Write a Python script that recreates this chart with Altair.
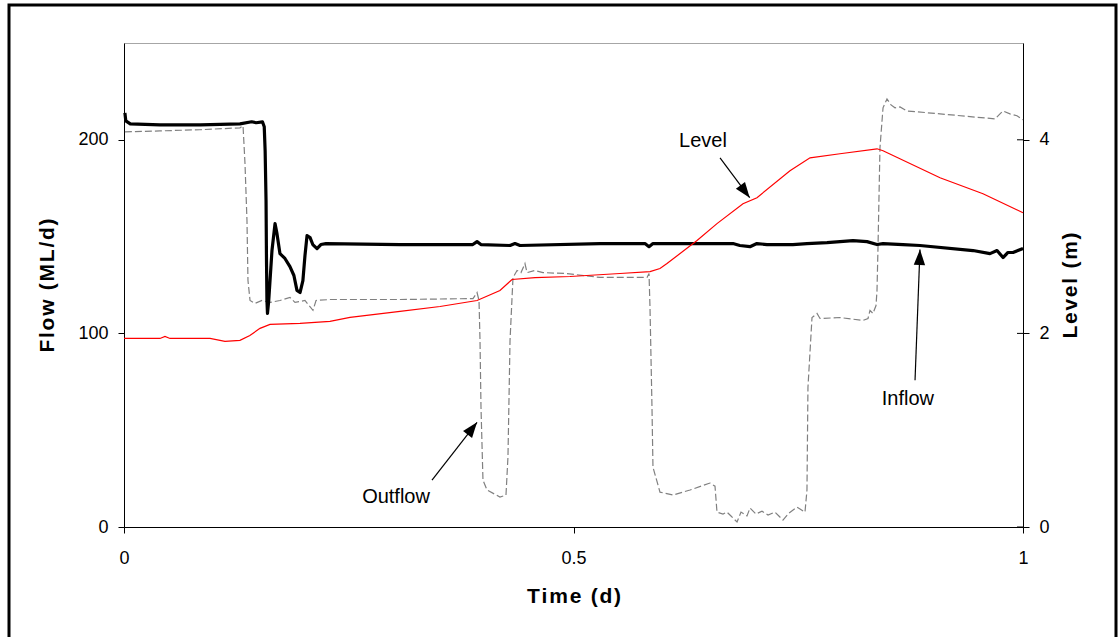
import altair as alt
import pandas as pd

# ---------------- data ----------------
inflow_t = [0.001, 0.002, 0.007, 0.040, 0.085, 0.129, 0.142, 0.147, 0.154, 0.156, 0.157, 0.158,
            0.1585, 0.159, 0.1596, 0.161, 0.1646, 0.168, 0.170, 0.1735, 0.179, 0.1846, 0.189,
            0.1924, 0.1958, 0.199, 0.2013, 0.2036, 0.207, 0.210, 0.2147, 0.219, 0.2247, 0.307,
            0.3515, 0.388, 0.3927, 0.397, 0.4294, 0.4349, 0.4405, 0.5295, 0.5795, 0.584, 0.5884,
            0.6774, 0.685, 0.6963, 0.704, 0.7152, 0.7297, 0.744, 0.7597, 0.782, 0.8109, 0.8265,
            0.8376, 0.8443, 0.8665, 0.8854, 0.9444, 0.9633, 0.9711, 0.9778, 0.9833, 0.9889, 1.0]
inflow_f = [213.9, 209.8, 208.2, 207.7, 207.7, 208.2, 209.3, 208.8, 209.3, 206.7, 194.3, 168.6,
            137.6, 117.0, 110.3, 117.0, 142.8, 156.7, 152.0, 141.2, 138.7, 134.5, 129.9,
            122.2, 121.1, 127.3, 140.2, 150.5, 149.5, 145.9, 143.8, 145.9, 146.4, 145.9,
            145.9, 145.9, 147.4, 145.9, 145.4, 146.4, 145.4, 146.4, 146.4, 144.8, 146.4,
            146.4, 145.4, 144.8, 146.4, 145.9, 145.9, 145.9, 146.4, 146.9, 147.9, 147.4,
            145.9, 146.4, 145.9, 145.4, 142.8, 141.2, 142.8, 139.2, 141.8, 141.8, 143.8]

outflow_t = [0.001, 0.040, 0.0845, 0.129, 0.1324, 0.1346, 0.1368, 0.1379, 0.1402, 0.1457, 0.1535,
             0.1624, 0.1735, 0.1846, 0.1902, 0.2013, 0.2102, 0.2136, 0.2291, 0.307, 0.3882,
             0.3927, 0.3949, 0.396, 0.3971, 0.3993, 0.4038, 0.4182, 0.4249, 0.4271, 0.4294,
             0.4327, 0.4372, 0.4416, 0.446, 0.4483, 0.4572, 0.4661, 0.4928, 0.5295, 0.5818,
             0.584, 0.5851, 0.5873, 0.5884, 0.5962, 0.6107, 0.6296, 0.6518, 0.6574, 0.6596,
             0.6663, 0.6707, 0.6752, 0.6819, 0.6863, 0.6930, 0.6963, 0.703, 0.7097, 0.7164,
             0.7241, 0.733, 0.7397, 0.7486, 0.7575, 0.7597, 0.7608, 0.7653, 0.7709, 0.7742,
             0.7964, 0.822, 0.8276, 0.8298, 0.8331, 0.8365, 0.8376, 0.8387, 0.8409, 0.8443,
             0.8487, 0.8532, 0.8576, 0.8632, 0.871, 0.9077, 0.9689, 0.9744, 0.9778, 0.9855,
             0.9933, 1.0]
outflow_f = [204.1, 204.6, 205.2, 206.2, 207.2, 187.6, 158.2, 127.3, 117.0, 115.5, 117.0,
             116.0, 117.0, 118.6, 116.0, 117.0, 111.9, 117.0, 117.5, 117.5, 118.0,
             121.1, 117.0, 96.4, 61.9, 24.2, 19.1, 15.5, 16.5, 36.1, 96.4,
             128.9, 132.5, 131.4, 136.1, 131.4, 132.5, 131.4, 130.9, 128.9, 128.9,
             130.9, 113.4, 61.9, 30.9, 18.0, 16.5, 19.1, 22.7, 21.1, 7.7,
             6.7, 7.7, 5.7, 2.6, 7.7, 5.7, 9.8, 6.7, 8.2, 6.2,
             7.7, 3.6, 7.2, 10.3, 7.7, 19.1, 72.2, 108.2, 110.3, 107.7,
             108.2, 106.7, 107.7, 111.9, 110.3, 114.4, 122.2, 144.3, 195.9, 216.5,
             221.1, 218.0, 216.5, 217.0, 214.9, 213.4, 210.8, 213.4, 214.9, 213.4,
             212.4, 210.3]

level_t = [0.0, 0.040, 0.0456, 0.0512, 0.0957, 0.1123, 0.129, 0.140, 0.1513, 0.1624, 0.1958,
           0.2291, 0.2514, 0.307, 0.3515, 0.3927, 0.4182, 0.4316, 0.4572, 0.4961, 0.5517,
           0.5851, 0.5962, 0.604, 0.6374, 0.6596, 0.6885, 0.7041, 0.7408, 0.7631, 0.7964,
           0.8376, 0.8443, 0.9077, 0.9555, 1.0]
level_m = [1.948, 1.948, 1.969, 1.948, 1.948, 1.918, 1.928, 1.979, 2.052, 2.093, 2.103,
           2.124, 2.165, 2.227, 2.278, 2.340, 2.443, 2.557, 2.577, 2.588, 2.619,
           2.639, 2.670, 2.722, 2.959, 3.134, 3.340, 3.402, 3.680, 3.814, 3.856,
           3.907, 3.887, 3.608, 3.443, 3.247]

ann_label = ["Level", "Inflow", "Outflow"]
ann_t = [0.644, 0.872, 0.3026]
ann_f = [199.5, 66.0, 15.5]

arrow_t1 = [0.663, 0.8799, 0.3426]
arrow_f1 = [190.7, 75.8, 24.2]
arrow_t2 = [0.696, 0.8854, 0.3927]
arrow_f2 = [170.1, 143.3, 54.1]
arrow_angle = [143, 2, 38]

time_ticks = [0, 0.5, 1]
flow_ticks = [0, 100, 200]
level_ticks = [0, 2, 4]

# ---------------- tables ----------------
inflow_df = pd.DataFrame({"t": inflow_t, "f": inflow_f})
outflow_df = pd.DataFrame({"t": outflow_t, "f": outflow_f})
level_df = pd.DataFrame({"t": level_t, "L": level_m})
ann_df = pd.DataFrame({"label": ann_label, "t": ann_t, "f": ann_f})
arrow_df = pd.DataFrame({"t1": arrow_t1, "f1": arrow_f1, "t2": arrow_t2,
                         "f2": arrow_f2, "angle": arrow_angle})
lt_df = pd.DataFrame({"L": level_ticks})

FONT = "Liberation Sans"


def track(s):
    return "\u200a".join(s)


xscale = alt.Scale(domain=[0, 1], nice=False, zero=False)
fscale = alt.Scale(domain=[0, 250], nice=False)
lscale = alt.Scale(domain=[0, 5], nice=False)

x_axis = alt.Axis(values=time_ticks, title=track("Time (d)"), grid=False, format="~g",
                  labelFlush=False, labelPadding=16, titlePadding=18)
f_axis = alt.Axis(values=flow_ticks, title=track("Flow (ML/d)"), grid=False, orient="left",
                  labelPadding=10, titlePadding=20)
l_axis = alt.Axis(values=level_ticks, title=track("Level (m)"), grid=False, orient="right",
                  labelPadding=10, titlePadding=31, titleAngle=270)


def X(field):
    return alt.X(field, type="quantitative", scale=xscale, axis=x_axis)


def YF(field):
    return alt.Y(field, type="quantitative", scale=fscale, axis=f_axis)


def YL(field):
    return alt.Y(field, type="quantitative", scale=lscale, axis=l_axis)


outflow_line = alt.Chart(outflow_df).mark_line(
    color="#808080", strokeWidth=1.2, strokeDash=[7, 3]
).encode(x=X("t"), y=YF("f"))

inflow_line = alt.Chart(inflow_df).mark_line(
    color="black", strokeWidth=3.2, strokeJoin="round"
).encode(x=X("t"), y=YF("f"))

arrow_lines = alt.Chart(arrow_df).mark_rule(color="black", strokeWidth=1.2).encode(
    x=X("t1"), x2="t2", y=YF("f1"), y2="f2")

arrow_heads = alt.Chart(arrow_df).mark_point(
    shape="M0,0L-0.5,1.35L0.5,1.35Z", filled=True, color="black", opacity=1, size=520
).encode(x=X("t2"), y=YF("f2"), angle=alt.Angle("angle:Q", scale=None))

ann_text = alt.Chart(ann_df).mark_text(
    font=FONT, fontSize=20, color="black", align="center", baseline="middle"
).encode(x=X("t"), y=YF("f"), text="label:N")

frame = alt.Chart(pd.DataFrame({"a": [0]})).mark_rect(
    fill=None, stroke="black", strokeWidth=3
).encode(x=alt.value(-115), x2=alt.value(992), y=alt.value(-38), y2=alt.value(640))

flow_layer = alt.layer(outflow_line, inflow_line, arrow_lines, arrow_heads, ann_text)

level_line = alt.Chart(level_df).mark_line(color="#ff0000", strokeWidth=1.2).encode(
    x=X("t"), y=YL("L"))
level_inner_ticks = alt.Chart(lt_df).mark_rule(color="black", strokeWidth=1).encode(
    x=alt.value(893), x2=alt.value(899), y=YL("L"))
level_layer = alt.layer(level_line, level_inner_ticks)

chart = alt.layer(frame, flow_layer, level_layer).resolve_scale(y="independent").properties(
    width=899, height=484,
    autosize=alt.AutoSizeParams(type="none"),
    padding={"left": 124, "top": 43, "right": 95, "bottom": 110},
    background="white",
).configure_view(
    stroke="#a6a6a6", strokeWidth=1
).configure_axis(
    domainColor="black", domainWidth=1, tickColor="black", tickSize=6, tickWidth=1,
    labelFont=FONT, labelFontSize=18, labelColor="black",
    titleFont=FONT, titleFontSize=21, titleFontWeight="bold", titleColor="black",
)

chart.save("out.html", embed_options={"renderer": "svg", "actions": False})
